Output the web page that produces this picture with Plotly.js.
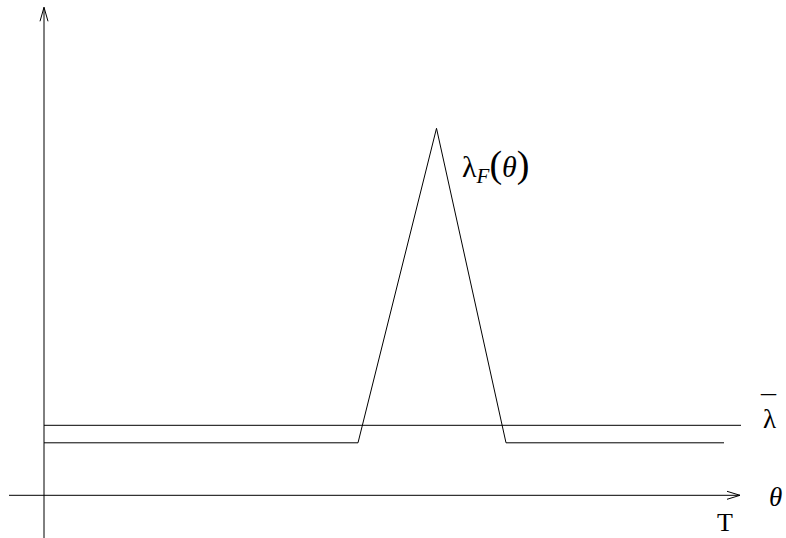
<!DOCTYPE html>
<html>
<head>
<meta charset="utf-8">
<script src="https://cdn.plot.ly/plotly-3.0.1.min.js"></script>
<style>html,body{margin:0;padding:0;background:#fff;}#chart{width:786px;height:538px;}</style>
</head>
<body>
<div id="chart"></div>
<script>
// Schematic values (arbitrary units; origin at axis intersection)
var theta = [0, 31.4, 39.25, 46.2, 68.0];
var lambdaF = [5.25, 5.25, 36.7, 5.25, 5.25];
var lambdaBarX = [0, 69.7];
var lambdaBarY = [7.0, 7.0];
var xAxisEnd = 69.6, xAxisStart = -3.5;
var yAxisEnd = 48.8, yAxisStart = -5;

var traces = [
  {x: theta, y: lambdaF, mode: 'lines', line: {color: '#000', width: 1}, hoverinfo: 'skip'},
  {x: lambdaBarX, y: lambdaBarY, mode: 'lines', line: {color: '#000', width: 1}, hoverinfo: 'skip'}
];

var shapes = [
  {type: 'line', xref: 'x', yref: 'y', x0: xAxisStart, x1: xAxisEnd, y0: 0, y1: 0, line: {color: '#000', width: 1}},
  {type: 'line', xref: 'x', yref: 'y', x0: 0, x1: 0, y0: yAxisStart, y1: yAxisEnd, line: {color: '#000', width: 1}},
  {type: 'path', xref: 'x', yref: 'y', path: 'M' + (xAxisEnd - 1.3) + ',0.4 L' + xAxisEnd + ',0 L' + (xAxisEnd - 1.3) + ',-0.4', line: {color: '#000', width: 1}},
  {type: 'path', xref: 'x', yref: 'y', path: 'M-0.4,' + (yAxisEnd - 1.4) + ' L0,' + yAxisEnd + ' L0.4,' + (yAxisEnd - 1.4), line: {color: '#000', width: 1}}
];

var serif = 'Liberation Serif, Times New Roman, serif';
var annotations = [
  {x: 72.5, y: 7.6, xref: 'x', yref: 'y', text: 'λ', showarrow: false, font: {family: serif, size: 27, color: '#000'}},
  {x: 72.45, y: 9.0, xref: 'x', yref: 'y', text: '¯', showarrow: false, font: {family: serif, size: 30, color: '#000'}},
  {x: 73.1, y: -0.2, xref: 'x', yref: 'y', text: '<i>θ</i>', showarrow: false, font: {family: serif, size: 27, color: '#000'}},
  {x: 68.1, y: -2.7, xref: 'x', yref: 'y', text: 'T', showarrow: false, font: {family: serif, size: 26, color: '#000'}},
  {x: 41.6, y: 33.0, xref: 'x', yref: 'y', xanchor: 'left', showarrow: false,
   text: 'λ<sub><i>F</i></sub><span style="font-size:38px">(</span><i>θ</i><span style="font-size:38px">)</span>',
   font: {family: serif, size: 30, color: '#000'}}
];

var layout = {
  width: 786, height: 538,
  margin: {l: 0, r: 0, t: 0, b: 0},
  paper_bgcolor: '#fff', plot_bgcolor: '#fff',
  showlegend: false,
  xaxis: {range: [-4.4, 74.2], visible: false, fixedrange: true},
  yaxis: {range: [-4.27, 49.53], visible: false, fixedrange: true},
  shapes: shapes,
  annotations: annotations
};

Plotly.newPlot('chart', traces, layout, {displayModeBar: false, staticPlot: true});
</script>
</body>
</html>
